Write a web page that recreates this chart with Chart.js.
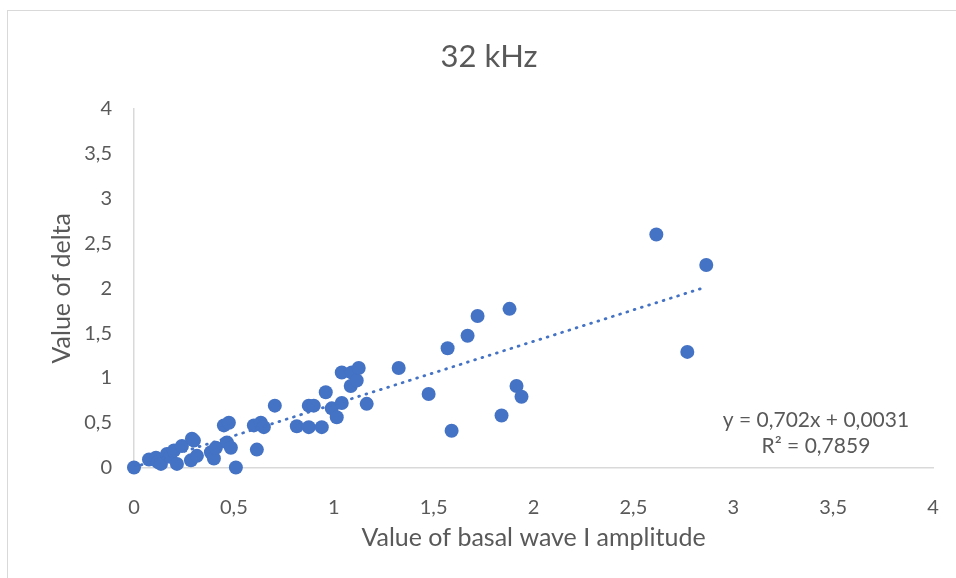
<!DOCTYPE html>
<html>
<head>
<meta charset="utf-8">
<script src="https://cdn.jsdelivr.net/npm/chart.js@4/dist/chart.umd.min.js"></script>
<style>
  html, body { margin: 0; padding: 0; background: #fff; overflow: hidden; }
  #wrap { position: relative; width: 956px; height: 578px; }
  #frame { position: absolute; left: 7px; top: 10px; width: 1000px; height: 1000px; border: 1px solid #d9d9d9; }
  #grafico { position: absolute; left: 0; top: 0; }
</style>
</head>
<body>
<div id="wrap">
  <div id="frame"></div>
  <canvas id="grafico" width="956" height="578"></canvas>
</div>
<script>
// dados
var titulo = '32 kHz';
var tituloX = 'Value of basal wave I amplitude';
var tituloY = 'Value of delta';

var amplitude = [0, 0.075, 0.11, 0.12, 0.135, 0.165, 0.18, 0.2, 0.215, 0.24, 0.285, 0.29, 0.3, 0.315,
    0.385, 0.4, 0.41, 0.45, 0.465, 0.475, 0.485, 0.51, 0.6, 0.615, 0.635, 0.65, 0.705, 0.815,
    0.875, 0.875, 0.9, 0.94, 0.96, 0.99, 1.015, 1.04, 1.04, 1.085, 1.09, 1.115, 1.125, 1.165,
    1.325, 1.475, 1.57, 1.59, 1.67, 1.72, 1.84, 1.88, 1.915, 1.94, 2.615, 2.77, 2.865];
var delta = [0, 0.09, 0.11, 0.06, 0.04, 0.15, 0.12, 0.19, 0.04, 0.24, 0.08, 0.32, 0.3, 0.13,
    0.17, 0.1, 0.22, 0.47, 0.28, 0.5, 0.22, 0, 0.47, 0.2, 0.5, 0.45, 0.69, 0.46,
    0.69, 0.45, 0.69, 0.45, 0.84, 0.66, 0.56, 0.72, 1.06, 0.91, 1.06, 0.97, 1.11, 0.71,
    1.11, 0.82, 1.33, 0.41, 1.47, 1.69, 0.58, 1.77, 0.91, 0.79, 2.6, 1.29, 2.26];

// linha de tendência (do rótulo da equação)
var inclinacao = 0.702;
var intercepto = 0.0031;
var equacao = ['y = 0,702x + 0,0031', 'R² = 0,7859'];

var fonte = 'Lato, "Open Sans", sans-serif';
var cinza = '#595959';
var azul = '#4472C4';

function formatarVirgula(v) {
    return String(v).replace('.', ',');
}

var pontos = amplitude.map(function (x, i) { return { x: x, y: delta[i] }; });
var xMax = Math.max.apply(null, amplitude);
var tendencia = [
    { x: 0, y: intercepto },
    { x: xMax, y: inclinacao * xMax + intercepto }
];

// título e equação desenhados à mão
var textos = {
    id: 'textos',
    afterDraw: function (chart) {
        var ctx = chart.ctx;
        ctx.save();
        ctx.fillStyle = cinza;
        ctx.textAlign = 'center';
        ctx.textBaseline = 'middle';
        ctx.font = '31px ' + fonte;
        ctx.fillText(titulo, 489, 57);
        var sx = chart.scales.x, sy = chart.scales.y;
        ctx.font = '21px ' + fonte;
        ctx.fillText(equacao[0], sx.getPixelForValue(3.414), sy.getPixelForValue(0.53));
        ctx.fillText(equacao[1], sx.getPixelForValue(3.414), sy.getPixelForValue(0.24));
        ctx.restore();
    }
};

var ctx = document.getElementById('grafico').getContext('2d');
var myChart = new Chart(ctx, {
    type: 'scatter',
    data: {
        datasets: [{
            type: 'line',
            data: tendencia,
            borderColor: azul,
            borderWidth: 2.8,
            borderDash: [0.8, 6.8],
            borderCapStyle: 'round',
            pointRadius: 0,
            fill: false,
            order: 0
        }, {
            data: pontos,
            backgroundColor: azul,
            borderWidth: 0,
            pointRadius: 7,
            pointHoverRadius: 7,
            clip: false,
            order: 1
        }]
    },
    options: {
        responsive: false,
        animation: false,
        layout: { padding: { left: 20, right: 23, top: 109, bottom: 10 } },
        scales: {
            x: {
                type: 'linear',
                min: 0,
                max: 4,
                grid: { display: false, drawTicks: false },
                border: { display: true, color: '#d9d9d9', width: 1.5 },
                ticks: {
                    stepSize: 0.5,
                    padding: 28,
                    color: cinza,
                    font: { family: fonte, size: 20 },
                    callback: formatarVirgula
                },
                title: {
                    display: true,
                    text: tituloX,
                    color: cinza,
                    font: { family: fonte, size: 25 },
                    padding: { top: 0, bottom: 15 }
                },
                afterFit: function (scale) {
                    scale.height = 100.5;
                    scale.paddingLeft = 0;
                    scale.paddingRight = 0;
                }
            },
            y: {
                min: 0,
                max: 4,
                grid: { display: false, drawTicks: false },
                border: { display: true, color: '#d9d9d9', width: 1.5 },
                ticks: {
                    stepSize: 0.5,
                    padding: 22,
                    color: cinza,
                    font: { family: fonte, size: 20 },
                    callback: formatarVirgula
                },
                title: {
                    display: true,
                    text: tituloY,
                    color: cinza,
                    font: { family: fonte, size: 25 },
                    padding: { top: 27, bottom: 0 }
                },
                afterFit: function (scale) { scale.width = 114; }
            }
        },
        plugins: {
            legend: { display: false },
            tooltip: { enabled: false },
            title: { display: false }
        }
    },
    plugins: [textos]
});
</script>
</body>
</html>
